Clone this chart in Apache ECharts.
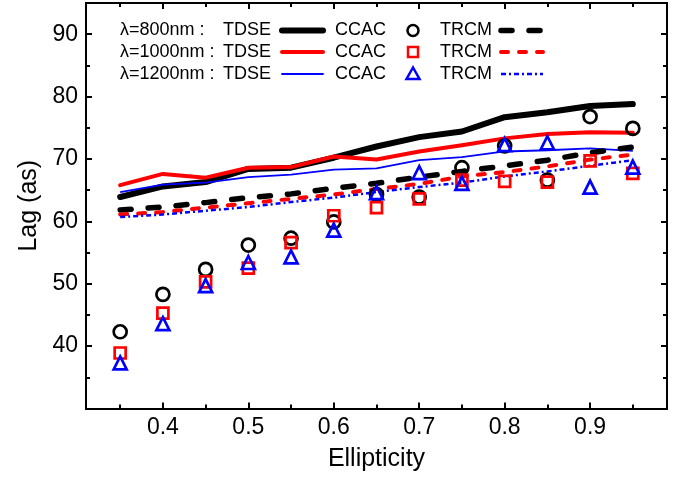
<!DOCTYPE html>
<html lang="en">
<head>
<meta charset="utf-8">
<title>Lag vs Ellipticity</title>
<script src="https://cdn.jsdelivr.net/npm/echarts@6/dist/echarts.min.js"></script>
</head>
<body style="margin:0">
<div id="main" style="width:690px;height:483px"></div>
<script type="text/javascript">
    // ellipticity values (x)
    var ellip = [0.35, 0.40, 0.45, 0.50, 0.55, 0.60, 0.65, 0.70, 0.75, 0.80, 0.85, 0.90, 0.95];

    // TDSE points
    var tdse800 = [42.3, 48.3, 52.3, 56.2, 57.3, 59.9, 64.3, 63.9, 68.6, 72.1, 66.6, 76.8, 74.9];
    var tdse1000 = [38.9, 45.3, 50.3, 52.5, 56.6, 60.9, 62.2, 63.6, 66.6, 66.4, 66.3, 69.7, 67.7];
    var tdse1200 = [37.3, 43.6, 49.7, 53.4, 54.3, 58.6, 64.6, 67.8, 66.1, 72.3, 72.6, 65.5, 68.7];

    // CCAC curves
    var ccac800 = [63.9, 65.6, 66.3, 68.4, 68.6, 70.2, 72.0, 73.5, 74.4, 76.7, 77.5, 78.5, 78.8];
    var ccac1000 = [65.8, 67.6, 67.0, 68.6, 68.7, 70.4, 69.9, 71.2, 72.2, 73.3, 74.0, 74.3, 74.2];
    var ccac1200 = [64.7, 65.9, 66.2, 67.1, 67.5, 68.3, 68.5, 69.8, 70.3, 71.2, 71.4, 71.7, 71.3];

    // TRCM curves
    var trcm800 = [61.8, 62.3, 63.0, 63.8, 64.4, 65.3, 66.1, 67.1, 68.0, 68.9, 69.8, 71.0, 71.9];
    var trcm1000 = [61.1, 61.5, 62.2, 62.9, 63.6, 64.3, 65.2, 66.0, 67.2, 67.9, 68.8, 69.9, 70.7];
    var trcm1200 = [60.7, 61.1, 61.7, 62.3, 63.1, 63.8, 64.7, 65.5, 66.2, 67.2, 68.0, 68.9, 69.8];

    // ticks
    var xMajor = [0.4, 0.5, 0.6, 0.7, 0.8, 0.9];
    var xMinor = [0.35, 0.45, 0.55, 0.65, 0.75, 0.85, 0.95];
    var yMajor = [40, 50, 60, 70, 80, 90];
    var yMinor = [35, 45, 55, 65, 75, 85];

    var FONT = 'Liberation Sans, Arial, sans-serif';

    // dash styles for the TRCM curves
    var DASH_BLACK = [11, 17];
    var DASH_RED = [7, 11];
    var DASH_BLUE = [5, 3, 2, 3];

    function pairs(ys) {
        return ellip.map(function (x, i) { return [x, ys[i]]; });
    }

    function xAx(pos, ticks, len, opt) {
        return Object.assign({
            type: 'value', position: pos, min: 0.31, max: 0.99,
            axisLine: {show: true, lineStyle: {color: '#000', width: 2}},
            axisTick: {show: true, inside: true, length: len, customValues: ticks, lineStyle: {color: '#000', width: 2}},
            axisLabel: {show: false},
            splitLine: {show: false}
        }, opt || {});
    }

    function yAx(pos, ticks, len, opt) {
        return Object.assign({
            type: 'value', position: pos, min: 30, max: 95,
            axisLine: {show: true, lineStyle: {color: '#000', width: 2}},
            axisTick: {show: true, inside: true, length: len, customValues: ticks, lineStyle: {color: '#000', width: 2}},
            axisLabel: {show: false},
            splitLine: {show: false}
        }, opt || {});
    }

    var chart = echarts.init(document.getElementById('main'));

    // legend rows
    var rows = [
        {pre: 'λ=800nm :', y: 30.5, color: '#000', w: 6, dash: DASH_BLACK, dw: 5.5, cap: 'round'},
        {pre: 'λ=1000nm :', y: 52, color: '#ff0000', w: 4, dash: DASH_RED, dw: 4, cap: 'round'},
        {pre: 'λ=1200nm :', y: 74, color: '#0000ff', w: 1.8, dash: DASH_BLUE, dw: 2.5, cap: 'butt'}
    ];
    var graphic = [];
    rows.forEach(function (r, i) {
        function txt(s, x) {
            graphic.push({type: 'text', x: x, y: r.y, style: {text: s, font: '18px ' + FONT, fill: '#000', verticalAlign: 'middle'}});
        }
        txt(r.pre, 120);
        txt('TDSE', 223);
        txt('CCAC', 335);
        txt('TRCM', 440);
        graphic.push({type: 'line', shape: {x1: 282, y1: r.y, x2: 323, y2: r.y},
            style: {stroke: r.color, lineWidth: r.w, lineCap: 'round'}});
        graphic.push({type: 'line', shape: {x1: 501, y1: r.y, x2: 543, y2: r.y},
            style: {stroke: r.color, lineWidth: r.dw, lineDash: r.dash, lineCap: r.cap}});
        var mk = {fill: 'none', stroke: r.color, lineWidth: 2.5};
        if (i === 0) graphic.push({type: 'circle', shape: {cx: 413, cy: r.y, r: 5.5}, style: mk});
        if (i === 1) graphic.push({type: 'rect', shape: {x: 408, y: r.y - 5, width: 10, height: 10}, style: mk});
        if (i === 2) graphic.push({type: 'polygon', shape: {points: [[413, r.y - 6.5], [406.5, r.y + 5], [419.5, r.y + 5]]}, style: mk});
    });

    function lineSeries(name, ys, color, width, dash, cap) {
        return {
            name: name, type: 'line', data: pairs(ys), symbol: 'none', z: 2,
            lineStyle: {color: color, width: width, type: dash || 'solid', cap: cap || 'butt', join: 'round'}
        };
    }

    function dotSeries(name, ys, color, symbol, size) {
        return {
            name: name, type: 'scatter', data: pairs(ys), symbol: symbol, symbolSize: size, z: 3,
            itemStyle: {color: 'rgba(0,0,0,0)', borderColor: color, borderWidth: 2.7, opacity: 1}
        };
    }

    chart.setOption({
        animation: false,
        textStyle: {fontFamily: FONT},
        grid: {left: 86, right: 23, top: 3, bottom: 74.5, containLabel: false, outerBoundsMode: 'none'},
        xAxis: [
            xAx('bottom', xMajor, 6, {
                name: 'Ellipticity', nameLocation: 'middle', nameGap: 38,
                nameTextStyle: {fontSize: 25, color: '#000', fontFamily: FONT},
                axisLabel: {show: true, customValues: xMajor, fontSize: 23, color: '#000', margin: 8, fontFamily: FONT}
            }),
            xAx('bottom', xMinor, 4),
            xAx('top', xMajor, 6),
            xAx('top', xMinor, 4)
        ],
        yAxis: [
            yAx('left', yMajor, 6, {
                name: 'Lag (as)', nameLocation: 'middle', nameGap: 42, nameRotate: 90,
                nameTextStyle: {fontSize: 25, color: '#000', fontFamily: FONT},
                axisLabel: {show: true, customValues: yMajor, fontSize: 23, color: '#000', margin: 8, fontFamily: FONT}
            }),
            yAx('left', yMinor, 4),
            yAx('right', yMajor, 6),
            yAx('right', yMinor, 4)
        ],
        series: [
            lineSeries('λ=800nm CCAC', ccac800, '#000', 6, null, 'round'),
            lineSeries('λ=1000nm CCAC', ccac1000, '#ff0000', 4, null, 'round'),
            lineSeries('λ=1200nm CCAC', ccac1200, '#0000ff', 1.8),
            lineSeries('λ=800nm TRCM', trcm800, '#000', 5.5, DASH_BLACK, 'round'),
            lineSeries('λ=1000nm TRCM', trcm1000, '#ff0000', 4, DASH_RED, 'round'),
            lineSeries('λ=1200nm TRCM', trcm1200, '#0000ff', 2.5, DASH_BLUE),
            dotSeries('λ=800nm TDSE', tdse800, '#000', 'circle', 13),
            dotSeries('λ=1000nm TDSE', tdse1000, '#ff0000', 'rect', 11),
            dotSeries('λ=1200nm TDSE', tdse1200, '#0000ff', 'triangle', 13)
        ],
        graphic: graphic
    });
</script>
</body>
</html>
